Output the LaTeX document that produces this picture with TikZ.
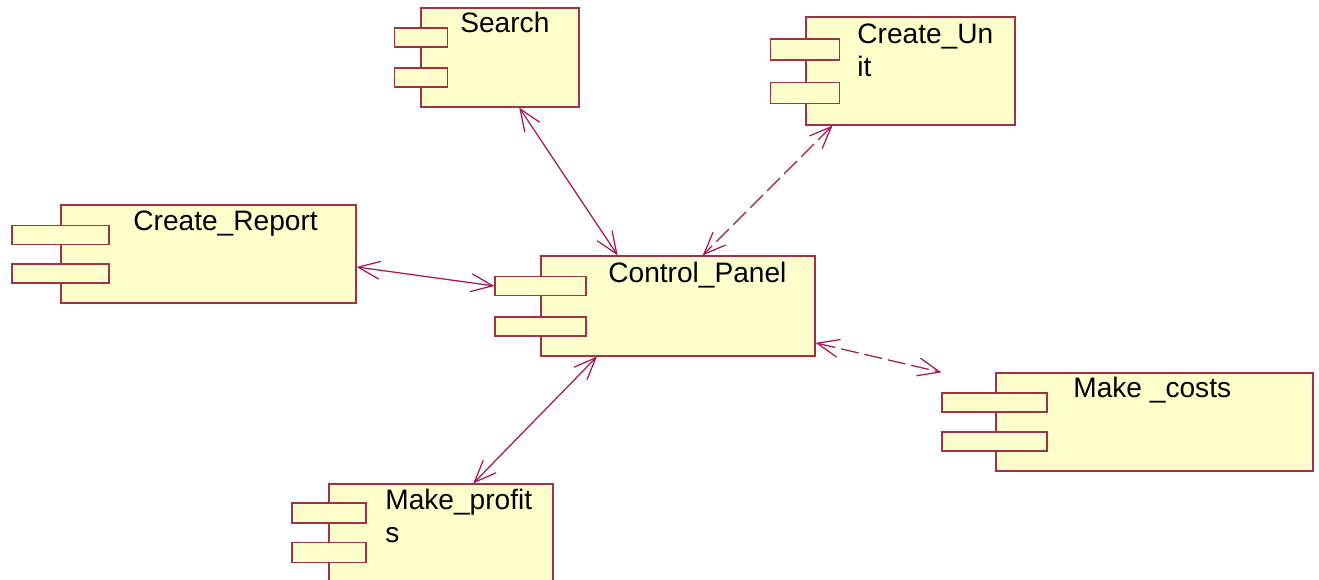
\documentclass[tikz,border=0pt]{standalone}
\usepackage{fontspec}
\setmainfont{Liberation Sans}
\usetikzlibrary{arrows.meta}
\definecolor{compfill}{RGB}{255,255,204}
\definecolor{compline}{RGB}{160,50,70}
\definecolor{linkline}{RGB}{165,20,85}
\begin{document}
\begin{tikzpicture}[x=.02cm, y=-.02cm,
  comp/.style={draw=compline, fill=compfill, line width=.7pt, inner sep=0},
  tab/.style={comp, minimum height=.38cm},
  lbl/.style={anchor=base west, inner sep=0, align=left, font=\fontsize{16pt}{19pt}\selectfont},
  link/.style={draw=linkline, line width=.7pt,
    {Straight Barb[length=.44cm,width=.36cm]}-{Straight Barb[length=.44cm,width=.36cm]}},
  dashlink/.style={link, dash pattern=on .36cm off .12cm}]
\useasboundingbox (0,0) rectangle (1319,580);

% components: body, two tabs, name (base = last line)
\node [comp, minimum width=3.16cm, minimum height=1.98cm] (search) at (500,57.5) {};
\node [tab, minimum width=1.06cm] (search-t1) at (421,37.5) {};
\node [tab, minimum width=1.06cm] (search-t2) at (421,77.5) {};
\node [lbl] (search-name) at (460,33) {Search};

\node [comp, minimum width=4.18cm, minimum height=2.16cm] (unit) at (910.5,71) {};
\node [tab, minimum width=1.38cm, minimum height=.42cm] (unit-t1) at (805,49.5) {};
\node [tab, minimum width=1.38cm, minimum height=.42cm] (unit-t2) at (805,93) {};
\node [lbl] (unit-name) at (857,77) {Create\_Un\\it};

\node [comp, minimum width=5.9cm, minimum height=1.96cm] (report) at (208.5,254) {};
\node [tab, minimum width=1.94cm] (report-t1) at (60.5,235) {};
\node [tab, minimum width=1.94cm] (report-t2) at (60.5,273.5) {};
\node [lbl] (report-name) at (133,231) {Create\_Report};

\node [comp, minimum width=5.48cm, minimum height=2cm] (panel) at (678,306) {};
\node [tab, minimum width=1.82cm] (panel-t1) at (540.5,286) {};
\node [tab, minimum width=1.82cm] (panel-t2) at (540.5,326.5) {};
\node [lbl] (panel-name) at (608,283) {Control\_Panel};

\node [comp, minimum width=6.34cm, minimum height=1.96cm] (costs) at (1154.5,422) {};
\node [tab, minimum width=2.1cm] (costs-t1) at (994.5,402.5) {};
\node [tab, minimum width=2.1cm] (costs-t2) at (994.5,441.5) {};
\node [lbl] (costs-name) at (1073,398) {Make \_costs};
\coordinate (costs-nw) at (costs-t1.west |- costs.north);

\node [comp, minimum width=4.48cm, minimum height=1.96cm] (profits) at (441,533) {};
\node [tab, minimum width=1.48cm, minimum height=.4cm] (profits-t1) at (329,513) {};
\node [tab, minimum width=1.48cm, minimum height=.4cm] (profits-t2) at (329,552.5) {};
\node [lbl] (profits-name) at (385,543) {Make\_profit\\s};

% dependencies
\draw [link] (search.-69) -- (panel.140);
\draw [dashlink] (unit.-145) -- (panel.64);
\draw [link] (report.-5) -- (panel-t1.west);
\draw [dashlink] (panel.-15.5) -- (costs-nw);
\draw [link] (panel.-148) -- (profits.57);
\end{tikzpicture}
\end{document}
